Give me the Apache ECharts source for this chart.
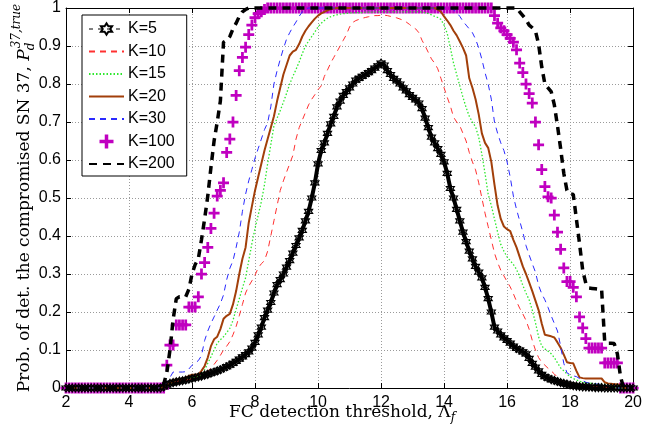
<!DOCTYPE html>
<html><head><meta charset="utf-8">
<script src="https://cdn.jsdelivr.net/npm/echarts@6/dist/echarts.min.js"></script>
<style>html,body{margin:0;padding:0;background:#fff}#c{width:645px;height:435px}</style>
</head><body><div id="c"></div>
<script>
// FC detection threshold grid (x values)
const thr = [2,2.1,2.2,2.3,2.4,2.5,2.6,2.7,2.8,2.9,
3,3.1,3.2,3.3,3.4,3.5,3.6,3.7,3.8,3.9,
4,4.1,4.2,4.3,4.4,4.5,4.6,4.7,4.8,4.9,
5,5.1,5.2,5.3,5.4,5.5,5.6,5.7,5.8,5.9,
6,6.1,6.2,6.3,6.4,6.5,6.6,6.7,6.8,6.9,
7,7.1,7.2,7.3,7.4,7.5,7.6,7.7,7.8,7.9,
8,8.1,8.2,8.3,8.4,8.5,8.6,8.7,8.8,8.9,
9,9.1,9.2,9.3,9.4,9.5,9.6,9.7,9.8,9.9,
10,10.1,10.2,10.3,10.4,10.5,10.6,10.7,10.8,10.9,
11,11.1,11.2,11.3,11.4,11.5,11.6,11.7,11.8,11.9,
12,12.1,12.2,12.3,12.4,12.5,12.6,12.7,12.8,12.9,
13,13.1,13.2,13.3,13.4,13.5,13.6,13.7,13.8,13.9,
14,14.1,14.2,14.3,14.4,14.5,14.6,14.7,14.8,14.9,
15,15.1,15.2,15.3,15.4,15.5,15.6,15.7,15.8,15.9,
16,16.1,16.2,16.3,16.4,16.5,16.6,16.7,16.8,16.9,
17,17.1,17.2,17.3,17.4,17.5,17.6,17.7,17.8,17.9,
18,18.1,18.2,18.3,18.4,18.5,18.6,18.7,18.8,18.9,
19,19.1,19.2,19.3,19.4,19.5,19.6,19.7,19.8,19.9,
20];

const k5 = [0,0,0,0,0,0,0,0,0,0, 0,0,0,0,0,0,0,0,0,0, 0,0,0,0,0,0,0,0,0,0,
0,0.003,0.008,0.012,0.014,0.016,0.018,0.019,0.021,0.023,
0.025,0.027,0.029,0.031,0.034,0.036,0.039,0.042,0.045,0.048,
0.052,0.056,0.06,0.065,0.07,0.076,0.082,0.088,0.095,0.105,
0.12,0.14,0.16,0.185,0.205,0.225,0.25,0.272,0.285,0.3,
0.318,0.335,0.355,0.375,0.395,0.415,0.44,0.465,0.5,0.54,
0.59,0.625,0.645,0.67,0.695,0.715,0.74,0.755,0.77,0.78,
0.79,0.8,0.81,0.815,0.82,0.825,0.83,0.835,0.842,0.848,
0.855,0.85,0.835,0.825,0.815,0.808,0.8,0.79,0.782,0.772,
0.765,0.758,0.75,0.735,0.71,0.685,0.66,0.645,0.63,0.615,
0.595,0.565,0.525,0.5,0.47,0.44,0.41,0.385,0.36,0.34,
0.32,0.305,0.29,0.265,0.235,0.2,0.16,0.15,0.14,0.132,
0.125,0.118,0.11,0.104,0.1,0.095,0.09,0.078,0.065,0.055,
0.045,0.036,0.03,0.026,0.022,0.02,0.017,0.014,0.012,0.01,
0.008,0.006,0.005,0.004,0.003,0.003,0.002,0.002,0.001,0.001,
0.001,0,0,0,0,0,0,0,0,0,
0];

const k10 = [0,0,0,0,0,0,0,0,0,0, 0,0,0,0,0,0,0,0,0,0, 0,0,0,0,0,0,0,0,0,0,
0,0.004,0.008,0.012,0.015,0.017,0.019,0.02,0.021,0.022,
0.025,0.028,0.032,0.036,0.04,0.045,0.052,0.062,0.073,0.086,
0.1,0.11,0.122,0.14,0.162,0.19,0.22,0.25,0.268,0.282,
0.297,0.316,0.327,0.335,0.36,0.4,0.44,0.48,0.52,0.545,
0.568,0.59,0.612,0.655,0.685,0.705,0.725,0.745,0.76,0.772,
0.785,0.795,0.82,0.837,0.855,0.87,0.885,0.9,0.915,0.93,
0.95,0.962,0.967,0.97,0.973,0.975,0.977,0.978,0.98,0.98,
0.981,0.981,0.98,0.978,0.976,0.974,0.971,0.968,0.963,0.957,
0.95,0.945,0.935,0.915,0.9,0.883,0.866,0.855,0.84,0.815,
0.79,0.765,0.742,0.713,0.7,0.69,0.67,0.65,0.62,0.595,
0.574,0.54,0.5,0.46,0.425,0.39,0.355,0.33,0.31,0.295,
0.28,0.266,0.248,0.228,0.21,0.195,0.178,0.155,0.125,0.1,
0.08,0.068,0.06,0.052,0.045,0.037,0.028,0.021,0.018,0.016,
0.014,0.013,0.012,0.01,0.009,0.008,0.007,0.006,0.005,0.005,
0.004,0.003,0.002,0.001,0,0,0,0,0,0,
0];

const k15 = [0,0,0,0,0,0,0,0,0,0, 0,0,0,0,0,0,0,0,0,0, 0,0,0,0,0,0,0,0,0,0,
0,0.004,0.008,0.012,0.016,0.02,0.023,0.025,0.026,0.027,
0.028,0.029,0.03,0.033,0.048,0.065,0.082,0.1,0.118,0.127,
0.135,0.146,0.157,0.178,0.207,0.235,0.263,0.29,0.335,0.38,
0.42,0.455,0.49,0.535,0.59,0.64,0.69,0.71,0.73,0.752,
0.775,0.8,0.82,0.838,0.858,0.88,0.9,0.913,0.925,0.937,
0.95,0.96,0.967,0.973,0.977,0.98,0.982,0.984,0.985,0.986,
0.987,0.987,0.988,0.988,0.988,0.989,0.989,0.989,0.99,0.99,
0.99,0.99,0.99,0.99,0.99,0.99,0.99,0.99,0.99,0.99,
0.99,0.99,0.99,0.989,0.988,0.985,0.982,0.978,0.975,0.97,
0.955,0.933,0.895,0.855,0.825,0.795,0.765,0.738,0.715,0.7,
0.687,0.66,0.615,0.565,0.51,0.48,0.445,0.41,0.378,0.36,
0.345,0.335,0.325,0.312,0.293,0.27,0.25,0.232,0.205,0.172,
0.135,0.11,0.103,0.097,0.09,0.08,0.066,0.053,0.045,0.037,
0.03,0.025,0.021,0.018,0.015,0.014,0.013,0.012,0.011,0.01,
0.01,0.01,0.008,0.005,0.002,0,0,0,0,0,
0];

const k20 = [0,0,0,0,0,0,0,0,0,0, 0,0,0,0,0,0,0,0,0,0, 0,0,0,0,0,0,0,0,0,0,
0,0.004,0.009,0.013,0.018,0.021,0.023,0.025,0.027,0.032,
0.035,0.035,0.036,0.045,0.058,0.08,0.11,0.128,0.135,0.155,
0.182,0.19,0.195,0.22,0.255,0.3,0.34,0.37,0.435,0.478,
0.52,0.555,0.59,0.625,0.655,0.685,0.715,0.755,0.79,0.825,
0.85,0.875,0.885,0.89,0.905,0.925,0.94,0.952,0.962,0.972,
0.98,0.986,0.99,0.994,0.997,0.999,1,1,1,1,
1,1,1,1,1,1,1,1,1,1,
1,1,1,1,1,1,1,1,1,1,
1,1,1,1,1,1,1,1,0.996,0.99,
0.978,0.967,0.955,0.94,0.928,0.912,0.895,0.875,0.815,0.79,
0.76,0.72,0.67,0.645,0.632,0.595,0.535,0.48,0.445,0.425,
0.418,0.413,0.39,0.37,0.345,0.32,0.3,0.278,0.255,0.23,
0.205,0.17,0.14,0.138,0.136,0.133,0.12,0.106,0.088,0.068,
0.066,0.065,0.045,0.028,0.026,0.025,0.025,0.025,0.025,0.025,
0.025,0.015,0.012,0.011,0.01,0.01,0.008,0,0,0,
0];

const k30 = [0,0,0,0,0,0,0,0,0,0, 0,0,0,0,0,0,0,0,0,0, 0,0,0,0,0,0,0,0,0,0,
0,0.005,0.015,0.028,0.042,0.042,0.042,0.042,0.043,0.05,
0.06,0.066,0.072,0.085,0.125,0.15,0.17,0.187,0.205,0.222,
0.245,0.285,0.315,0.335,0.37,0.41,0.465,0.51,0.545,0.575,
0.605,0.63,0.655,0.68,0.698,0.74,0.8,0.835,0.865,0.893,
0.918,0.935,0.95,0.963,0.978,0.99,0.997,1,1,1,
1,1,1,1,1,1,1,1,1,1,
1,1,1,1,1,1,1,1,1,1,
1,1,1,1,1,1,1,1,1,1,
1,1,1,1,1,1,1,1,1,1,
1,1,1,0.995,0.988,0.978,0.965,0.955,0.945,0.935,
0.918,0.895,0.865,0.83,0.8,0.76,0.7,0.67,0.645,0.625,
0.595,0.555,0.505,0.47,0.44,0.41,0.375,0.35,0.327,0.305,
0.27,0.248,0.232,0.212,0.19,0.17,0.15,0.11,0.065,0.04,
0.035,0.032,0.03,0.025,0.02,0.015,0.013,0.012,0.011,0.01,
0.01,0.008,0.005,0.003,0,0,0,0,0,0,
0];

const k100 = [0,0,0,0,0,0,0,0,0,0, 0,0,0,0,0,0,0,0,0,0, 0,0,0,0,0,0,0,0,0,0,
0,0,0.06,0.113,0.113,0.166,0.166,0.166,0.166,0.213,
0.213,0.213,0.24,0.3,0.33,0.37,0.42,0.46,0.505,0.52,
0.54,0.62,0.655,0.7,0.77,0.835,0.87,0.897,0.93,0.955,
0.975,0.985,0.99,0.996,1,1,1,1,1,1,
1,1,1,1,1,1,1,1,1,1,
1,1,1,1,1,1,1,1,1,1,
1,1,1,1,1,1,1,1,1,1,
1,1,1,1,1,1,1,1,1,1,
1,1,1,1,1,1,1,1,1,1,
1,1,1,1,1,1,1,1,1,1,
1,1,1,1,1,1,0.98,0.96,0.948,0.94,
0.93,0.92,0.91,0.89,0.855,0.83,0.8,0.775,0.75,0.7,
0.64,0.575,0.53,0.503,0.5,0.455,0.41,0.365,0.316,0.28,
0.28,0.265,0.24,0.187,0.158,0.13,0.105,0.105,0.105,0.105,
0.105,0.066,0.066,0.066,0.066,0.066,0,0,0,0,
0];

const k200 = [0,0,0,0,0,0,0,0,0,0, 0,0,0,0,0,0,0,0,0,0, 0,0,0,0,0,0,0,0,0,0,
0,0.01,0.04,0.1,0.18,0.235,0.24,0.24,0.24,0.26,
0.3,0.325,0.34,0.39,0.445,0.505,0.58,0.65,0.7,0.755,
0.91,0.915,0.925,0.945,0.96,0.978,0.99,0.996,1,1,
1,1,1,1,1,1,1,1,1,1,
1,1,1,1,1,1,1,1,1,1,
1,1,1,1,1,1,1,1,1,1,
1,1,1,1,1,1,1,1,1,1,
1,1,1,1,1,1,1,1,1,1,
1,1,1,1,1,1,1,1,1,1,
1,1,1,1,1,1,1,1,1,1,
1,1,1,1,1,1,1,1,1,1,
1,1,1,1,0.99,0.98,0.97,0.955,0.948,0.94,
0.905,0.845,0.8,0.79,0.78,0.745,0.69,0.63,0.565,0.52,
0.51,0.51,0.445,0.38,0.31,0.275,0.263,0.262,0.261,0.26,
0.26,0.12,0.118,0.118,0.117,0.09,0.03,0,0,0,
0];

const names = ['K=5','K=10','K=15','K=20','K=30','K=100','K=200'];
const xTicks = [2,4,6,8,10,12,14,16,18,20];
const yTicks = ['0','0.1','0.2','0.3','0.4','0.5','0.6','0.7','0.8','0.9','1'];
const xTitle = 'FC detection threshold, Λ';
const yTitle = 'Prob. of det. the compromised SN 37, ';

const pair = arr => thr.map((x, i) => [x, arr[i]]);
const plus = 'path://M3,0H5V3H8V5H5V8H3V5H0V3H3Z';
const hexa = 'path://M0,-10L2.9,-5H8.66L5.8,0L8.66,5H2.9L0,10L-2.9,5H-8.66L-5.8,0L-8.66,-5H-2.9Z';

const cv = document.createElement('canvas').getContext('2d');
function tw(t, f) { cv.font = f; return cv.measureText(t).width; }
const SERIF = '"DejaVu Serif"';
const fMain = '17px ' + SERIF, fIt = 'italic 17px ' + SERIF, fSm = 'italic 12px ' + SERIF;

const wy1 = tw(yTitle, fMain), wyP = tw('P', fIt), wyS = tw('37,true', fSm);
const ytot = wy1 + wyP + wyS + 1;
const yx0 = -ytot / 2;
const wx1 = tw(xTitle, fMain), wxf = tw('f', fSm);
const xx0 = 342 - (wx1 + wxf) / 2;

const chart = echarts.init(document.getElementById('c'), null, {renderer: 'canvas'});
const axisLineStyle = {color: '#000', width: 1};
const gridLine = {show: true, lineStyle: {color: '#9a9a9a', width: 1, type: [1, 2]}};
const noSym = {opacity: 0};
chart.setOption({
  animation: false,
  backgroundColor: '#fff',
  grid: {left: 66, right: 10, top: 7, bottom: 47, containLabel: false},
  legend: {
    orient: 'vertical', left: 82, top: 15,
    padding: [6, 12, 4, 6], itemGap: 6.5, itemWidth: 35, itemHeight: 14,
    borderColor: '#000', borderWidth: 1, backgroundColor: '#fff',
    textStyle: {fontFamily: '"Liberation Sans"', fontSize: 16, color: '#000', padding: [0, 0, 0, -1]},
    data: [
      {name: 'K=5', lineStyle: {width: 1, type: [4, 5]}},
      {name: 'K=10', itemStyle: noSym},
      {name: 'K=15', itemStyle: noSym},
      {name: 'K=20', itemStyle: noSym},
      {name: 'K=30', itemStyle: noSym},
      'K=100',
      {name: 'K=200', itemStyle: noSym}
    ]
  },
  xAxis: [{
    type: 'value', min: 2, max: 20, interval: 2, position: 'bottom',
    axisLine: {show: true, onZero: false, lineStyle: axisLineStyle},
    axisTick: {show: true, inside: true, length: 5, lineStyle: axisLineStyle},
    axisLabel: {color: '#000', fontSize: 16, fontFamily: '"Liberation Sans"', margin: 7,
      formatter: v => String(xTicks.find(t => Math.abs(t - v) < 1e-6) ?? '')},
    splitLine: gridLine
  }, {
    type: 'value', min: 2, max: 20, interval: 2, position: 'top',
    axisLine: {show: true, onZero: false, lineStyle: axisLineStyle},
    axisTick: {show: true, inside: true, length: 5, lineStyle: axisLineStyle},
    axisLabel: {show: false}, splitLine: {show: false}
  }],
  yAxis: [{
    type: 'value', min: 0, max: 1, interval: 0.1, position: 'left',
    axisLine: {show: true, onZero: false, lineStyle: axisLineStyle},
    axisTick: {show: true, inside: true, length: 5, lineStyle: axisLineStyle},
    axisLabel: {color: '#000', fontSize: 16, fontFamily: '"Liberation Sans"', margin: 5,
      formatter: v => yTicks[Math.round(v * 10)]},
    splitLine: gridLine
  }, {
    type: 'value', min: 0, max: 1, interval: 0.1, position: 'right',
    axisLine: {show: true, onZero: false, lineStyle: axisLineStyle},
    axisTick: {show: true, inside: true, length: 5, lineStyle: axisLineStyle},
    axisLabel: {show: false}, splitLine: {show: false}
  }],
  series: [
    {name: 'K=5', type: 'line', data: pair(k5), symbol: hexa, symbolSize: 8, showSymbol: true, showAllSymbol: true,
      itemStyle: {color: 'rgba(255,255,255,0)', borderColor: '#000', borderWidth: 1.2},
      lineStyle: {color: '#000', width: 4}, clip: false},
    {name: 'K=10', type: 'line', data: pair(k10), symbol: 'none', itemStyle: {color: '#ff3030'},
      lineStyle: {color: '#ff3030', width: 1, type: [6, 5]}, clip: false},
    {name: 'K=15', type: 'line', data: pair(k15), symbol: 'none', itemStyle: {color: '#2ee82e'},
      lineStyle: {color: '#2ee82e', width: 1.3, type: [1.5, 2]}, clip: false},
    {name: 'K=20', type: 'line', data: pair(k20), symbol: 'none', itemStyle: {color: '#a23f0a'},
      lineStyle: {color: '#a23f0a', width: 2}, clip: false},
    {name: 'K=30', type: 'line', data: pair(k30), symbol: 'none', itemStyle: {color: '#2a2aff'},
      lineStyle: {color: '#2a2aff', width: 1, type: [6, 5]}, clip: false},
    {name: 'K=100', type: 'scatter', data: pair(k100), symbol: plus, symbolSize: 11,
      itemStyle: {color: '#c000c0', opacity: 1}, clip: false},
    {name: 'K=200', type: 'line', data: pair(k200), symbol: 'none', itemStyle: {color: '#000'},
      lineStyle: {color: '#000', width: 3.5, type: [8, 6]}, clip: false}
  ],
  graphic: [
    {type: 'group', x: 25, y: 198, rotation: Math.PI / 2, children: [
      {type: 'text', x: yx0, y: 0, style: {text: yTitle, font: fMain, fill: '#000', align: 'left', verticalAlign: 'middle'}},
      {type: 'text', x: yx0 + wy1, y: 0, style: {text: 'P', font: fIt, fill: '#000', align: 'left', verticalAlign: 'middle'}},
      {type: 'text', x: yx0 + wy1 + wyP + 1, y: -8, style: {text: '37,true', font: fSm, fill: '#000', align: 'left', verticalAlign: 'middle'}},
      {type: 'text', x: yx0 + wy1 + wyP - 1, y: 6, style: {text: 'd', font: fSm, fill: '#000', align: 'left', verticalAlign: 'middle'}}
    ]},
    {type: 'text', x: xx0, y: 413, style: {text: xTitle, font: fMain, fill: '#000', align: 'left', verticalAlign: 'middle'}},
    {type: 'text', x: xx0 + wx1, y: 418, style: {text: 'f', font: fSm, fill: '#000', align: 'left', verticalAlign: 'middle'}}
  ]
});
</script></body></html>
